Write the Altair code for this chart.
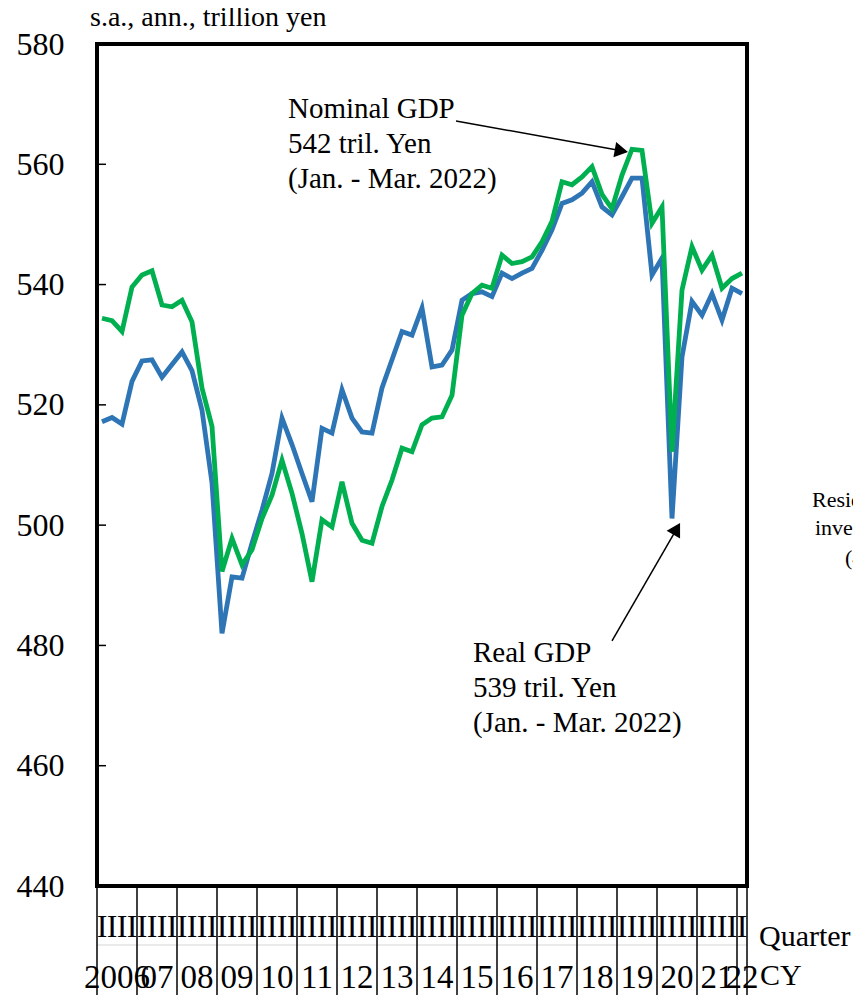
import altair as alt
import pandas as pd

FONT = "Liberation Serif"

# 2006Q1 .. 2022Q1 (65 quarters)
quarters = [f"{y}Q{q}" for y in range(2006, 2023) for q in range(1, 5)][:65]

real_gdp = [517.2, 517.9, 516.8, 523.9, 527.3, 527.5, 524.6, 526.7, 528.8, 525.7,
            519.1, 507.0, 482.0, 491.4, 491.2, 497.0, 502.5, 508.6, 517.8, 513.4,
            508.6, 503.9, 516.1, 515.3, 522.5, 517.8, 515.5, 515.3, 522.8, 527.5,
            532.2, 531.6, 536.1, 526.3, 526.6, 529.1, 537.4, 538.5, 538.8, 538.0,
            541.9, 541.0, 541.9, 542.7, 545.7, 549.1, 553.5, 554.1, 555.2, 557.1,
            552.9, 551.6, 554.6, 557.7, 557.7, 541.6, 544.4, 501.1, 528.0, 537.2,
            534.9, 538.5, 534.1, 539.4, 538.5]

nominal_gdp = [534.4, 534.0, 532.2, 539.6, 541.6, 542.3, 536.6, 536.3, 537.4, 533.8,
               522.8, 516.4, 492.3, 497.8, 493.4, 495.9, 501.1, 505.0, 510.8, 505.3,
               498.6, 490.6, 500.9, 499.7, 507.2, 500.3, 497.5, 497.0, 503.1, 507.5,
               512.8, 512.2, 516.7, 517.8, 518.0, 521.6, 534.9, 538.5, 539.9, 539.4,
               544.9, 543.5, 543.8, 544.6, 547.1, 550.5, 557.1, 556.6, 557.9, 559.6,
               555.0, 552.6, 558.2, 562.5, 562.3, 550.2, 552.9, 512.2, 539.1, 546.3,
               542.4, 544.9, 539.4, 541.0, 541.9]

year_labels = ["2006", "07", "08", "09", "10", "11", "12", "13", "14", "15",
               "16", "17", "18", "19", "20", "21", "22"]
y_ticks = [440, 460, 480, 500, 520, 540, 560, 580]

# ---- tables -------------------------------------------------------------
pos = [i + 0.5 for i in range(len(quarters))]
df = pd.DataFrame({"pos": pos, "quarter": quarters,
                   "real": real_gdp, "nominal": nominal_gdp})

year_df = pd.DataFrame({
    "label": year_labels,
    "center": [4 * k + 2 for k in range(16)] + [64.5],
})
sep_df = pd.DataFrame({"b": [4 * k for k in range(17)] + [65]})
qlab_df = pd.DataFrame({"pos": pos, "t": ["I"] * len(pos)})
tick_df = pd.DataFrame({"v": y_ticks})

xs = alt.Scale(domain=[0, 65], nice=False, zero=False)
ys = alt.Scale(domain=[440, 580], nice=False, zero=False)
yaxis = alt.Axis(values=y_ticks, ticks=False, domain=False, grid=False,
                 labelFont=FONT, labelFontSize=32, labelColor="black",
                 labelPadding=33, title=None)


def X(f):
    return alt.X(f, scale=xs, axis=None)


def Y(f):
    return alt.Y(f, scale=ys, axis=yaxis)


blue_line = alt.Chart(df).mark_line(color="#2E75B6", strokeWidth=4.8).encode(
    x=X("pos:Q"), y=Y("real:Q"))
green_line = alt.Chart(df).mark_line(color="#00B050", strokeWidth=4.8).encode(
    x=X("pos:Q"), y=Y("nominal:Q"))

inner_ticks = alt.Chart(tick_df).mark_rule(color="black", strokeWidth=1.5).encode(
    x=alt.value(0), x2=alt.value(9), y=Y("v:Q"))

# bottom quarter / year table
seps = alt.Chart(sep_df).mark_rule(color="black", strokeWidth=1.5).encode(
    x=X("b:Q"), y=alt.value(842), y2=alt.value(965))
row_line = alt.Chart(sep_df.head(1)).mark_rule(color="#d5d5d5", strokeWidth=1).encode(
    x=alt.value(0), x2=alt.value(650), y=alt.value(901))
qlabels = alt.Chart(qlab_df).mark_text(font=FONT, fontSize=32, baseline="alphabetic",
                                       align="center", color="black").encode(
    x=X("pos:Q"), y=alt.value(893), text="t:N")
ylabels = alt.Chart(year_df).mark_text(font=FONT, fontSize=33, baseline="alphabetic",
                                       align="center", color="black").encode(
    x=X("center:Q"), y=alt.value(944), text="label:N")

side_df = pd.DataFrame({"t": ["Quarter", "CY"], "xx": [66.2, 66.3],
                        "yy": [430.03, 423.6]})
side = alt.Chart(side_df).mark_text(font=FONT, fontSize=30, baseline="alphabetic",
                                    align="left", color="black").encode(
    x=X("xx:Q"), y=Y("yy:Q"), text="t:N")

title_df = pd.DataFrame({"t": ["s.a., ann., trillion yen"]})
title = alt.Chart(title_df).mark_text(font=FONT, fontSize=28, baseline="alphabetic",
                                      align="left", color="black").encode(
    x=alt.value(-7), y=alt.value(-18), text="t:N")

# annotations
ann_df = pd.DataFrame({
    "t": ["Nominal GDP\n542 tril. Yen\n(Jan. - Mar. 2022)",
          "Real GDP\n539 tril. Yen\n(Jan. - Mar. 2022)"],
    "x": [19.1, 37.6],
    "y": [567.7, 477.24],
})
ann = alt.Chart(ann_df).mark_text(font=FONT, fontSize=29, baseline="alphabetic",
                                  align="left", lineBreak="\n", lineHeight=35,
                                  color="black").encode(
    x=X("x:Q"), y=Y("y:Q"), text="t:N")

arrow_df = pd.DataFrame({"x": [35.9, 51.5], "y": [567.2, 480.74],
                         "x2": [52.44, 57.97], "y2": [562.24, 499.39]})
arrow_lines = alt.Chart(arrow_df).mark_rule(color="black", strokeWidth=1.5).encode(
    x=X("x:Q"), y=Y("y:Q"), x2="x2:Q", y2="y2:Q")
head1 = alt.Chart(arrow_df.head(1)).mark_point(shape="triangle-right", filled=True,
                                               size=240, angle=10, color="black",
                                               opacity=1).encode(
    x=X("x2:Q"), y=Y("y2:Q"))
head2 = alt.Chart(arrow_df.tail(1)).mark_point(shape="triangle-up", filled=True,
                                               size=240, angle=30, color="black",
                                               opacity=1).encode(
    x=X("x2:Q"), y=Y("y2:Q"))

# text of the neighbouring panel, cut by the picture edge
nb_df = pd.DataFrame({"t": ["Residential", "investment", "(4"],
                      "xx": [71.5, 71.8, 74.8], "yy": [503.0, 498.36, 493.37]})
nb = alt.Chart(nb_df).mark_text(font=FONT, fontSize=22, baseline="alphabetic",
                                align="left", color="black").encode(
    x=X("xx:Q"), y=Y("yy:Q"), text="t:N")

chart = alt.layer(
    blue_line, green_line, inner_ticks, row_line, seps, qlabels, ylabels, side,
    title, arrow_lines, head1, head2, ann, nb,
).properties(
    width=650, height=842,
    padding={"left": 89, "top": 36, "right": 106, "bottom": 109},
    autosize=alt.AutoSizeParams(type="none"),
    background="white",
).configure_view(stroke="black", strokeWidth=4)

chart.save("out.html", embed_options={"renderer": "svg", "actions": False})
